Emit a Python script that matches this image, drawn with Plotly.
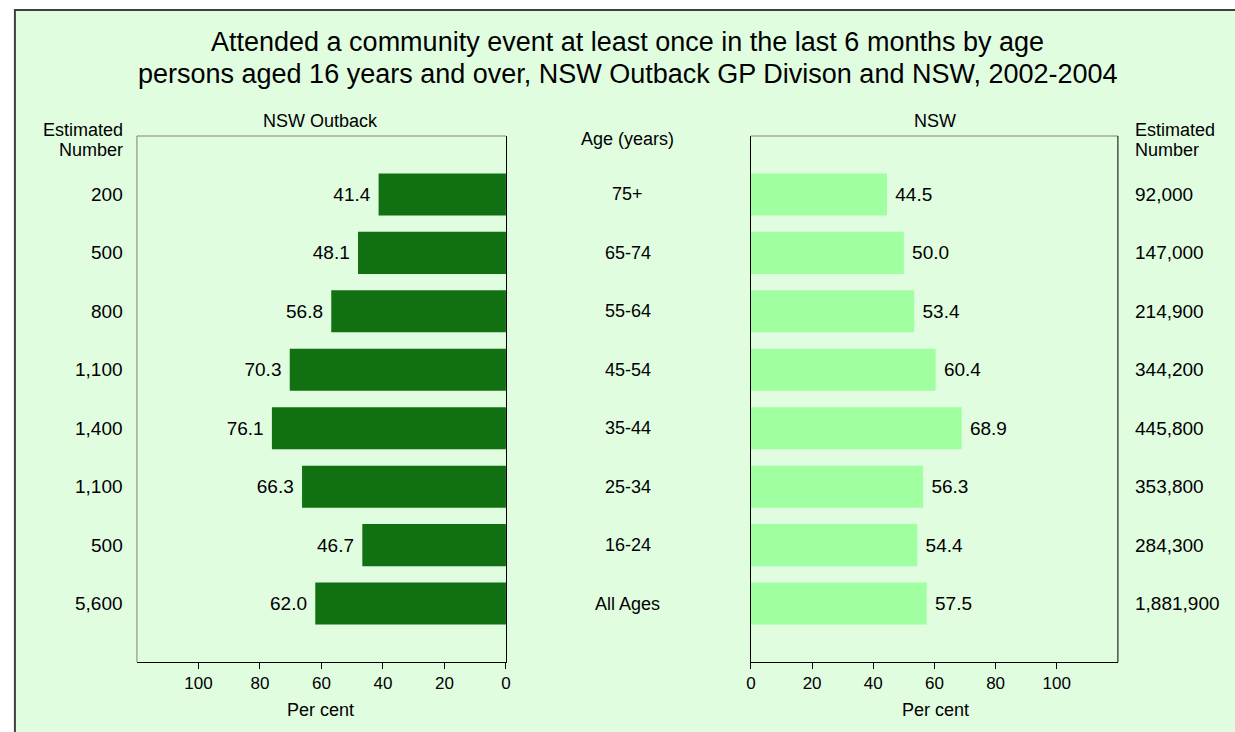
import plotly.graph_objects as go

ages = ["75+", "65-74", "55-64", "45-54", "35-44", "25-34", "16-24", "All Ages"]
outback_pct = [41.4, 48.1, 56.8, 70.3, 76.1, 66.3, 46.7, 62.0]
nsw_pct = [44.5, 50.0, 53.4, 60.4, 68.9, 56.3, 54.4, 57.5]
outback_num = ["200", "500", "800", "1,100", "1,400", "1,100", "500", "5,600"]
nsw_num = ["92,000", "147,000", "214,900", "344,200", "445,800", "353,800", "284,300", "1,881,900"]
ticks = [0, 20, 40, 60, 80, 100]

W, H = 1235, 732
FONT = "Liberation Sans, Arial, sans-serif"
idx = list(range(len(ages)))

def px(x):
    return x / W

def py(y):
    return 1 - y / H

fig = go.Figure()
fig.add_trace(go.Bar(
    y=idx, x=outback_pct, orientation="h", xaxis="x", yaxis="y",
    marker=dict(color="#117011", line=dict(width=0)), width=0.72,
    text=[f"{v:.1f} " for v in outback_pct], textposition="outside",
    textfont=dict(size=19, color="#000000", family=FONT), cliponaxis=False,
    showlegend=False, hoverinfo="skip"))
fig.add_trace(go.Bar(
    y=idx, x=nsw_pct, orientation="h", xaxis="x2", yaxis="y2",
    marker=dict(color="#a0ffa0", line=dict(width=0)), width=0.72,
    text=[f" {v:.1f}" for v in nsw_pct], textposition="outside",
    textfont=dict(size=19, color="#000000", family=FONT), cliponaxis=False,
    showlegend=False, hoverinfo="skip"))

yd = [py(662), py(136)]
axcommon = dict(tickvals=ticks, ticks="outside", ticklen=6, tickcolor="#000000",
                tickfont=dict(size=17, color="#000000", family=FONT),
                showgrid=False, zeroline=False, showline=True, linecolor="#000000",
                linewidth=1, mirror=False, fixedrange=True)
fig.update_layout(
    width=W, height=H, margin=dict(l=0, r=0, t=0, b=0),
    paper_bgcolor="#ffffff", plot_bgcolor="#ffffff",
    xaxis=dict(domain=[px(133), px(505)], range=[120, 0], anchor="y", **axcommon),
    xaxis2=dict(domain=[px(752), px(1122)], range=[0, 120], anchor="y2", **axcommon),
    yaxis=dict(domain=yd, range=[8, -1], side="right", showticklabels=False, ticks="",
               showgrid=False, zeroline=False, showline=True, linecolor="#000000",
               anchor="x", fixedrange=True),
    yaxis2=dict(domain=yd, range=[8, -1], side="left", showticklabels=False, ticks="",
                showgrid=False, zeroline=False, showline=True, linecolor="#000000",
                anchor="x2", fixedrange=True),
)

shapes = [
    dict(type="rect", xref="paper", yref="paper", x0=px(10), x1=1.02, y0=-0.02, y1=py(10),
         fillcolor="#e0fde0", line=dict(color="#404040", width=2), layer="below"),
    dict(type="line", xref="paper", yref="paper", x0=px(133), x1=px(505), y0=py(136), y1=py(136),
         line=dict(color="#808080", width=1)),
    dict(type="line", xref="paper", yref="paper", x0=px(133), x1=px(133), y0=py(136), y1=py(662),
         line=dict(color="#808080", width=1)),
    dict(type="line", xref="paper", yref="paper", x0=px(752), x1=px(1122), y0=py(136), y1=py(136),
         line=dict(color="#808080", width=1)),
    dict(type="line", xref="paper", yref="paper", x0=px(1122), x1=px(1122), y0=py(136), y1=py(662),
         line=dict(color="#000000", width=1)),
]
fig.update_layout(shapes=shapes)

ann = []
def txt(x, y, s, size=18, xanchor="center"):
    ann.append(dict(x=px(x), y=py(y), xref="paper", yref="paper", text=s, showarrow=False,
                    xanchor=xanchor, yanchor="middle",
                    font=dict(size=size, color="#000000", family=FONT)))

txt(628, 42, "Attended a community event at least once in the last 6 months by age", size=27)
txt(628, 74, "persons aged 16 years and over, NSW Outback GP Divison and NSW, 2002-2004", size=27)
txt(318, 121, "NSW Outback", size=18)
txt(938, 121, "NSW", size=18)
txt(628, 139, "Age (years)", size=18)
txt(121, 130, "Estimated", size=18, xanchor="right")
txt(121, 150, "Number", size=18, xanchor="right")
txt(1137, 130, "Estimated", size=18, xanchor="left")
txt(1137, 150, "Number", size=18, xanchor="left")
txt(318, 710, "Per cent", size=18)
txt(938, 710, "Per cent", size=18)

for i, a in enumerate(ages):
    ann.append(dict(x=px(628), y=i, xref="paper", yref="y", text=a, showarrow=False,
                    xanchor="center", yanchor="middle",
                    font=dict(size=18, color="#000000", family=FONT)))
    ann.append(dict(x=px(121), y=i, xref="paper", yref="y", text=outback_num[i], showarrow=False,
                    xanchor="right", yanchor="middle",
                    font=dict(size=19, color="#000000", family=FONT)))
    ann.append(dict(x=px(1137), y=i, xref="paper", yref="y", text=nsw_num[i], showarrow=False,
                    xanchor="left", yanchor="middle",
                    font=dict(size=19, color="#000000", family=FONT)))
fig.update_layout(annotations=ann)

fig.write_html("out.html", config={"displayModeBar": False, "staticPlot": True},
               post_script="document.body.style.margin='0';document.body.style.overflow='hidden';")
